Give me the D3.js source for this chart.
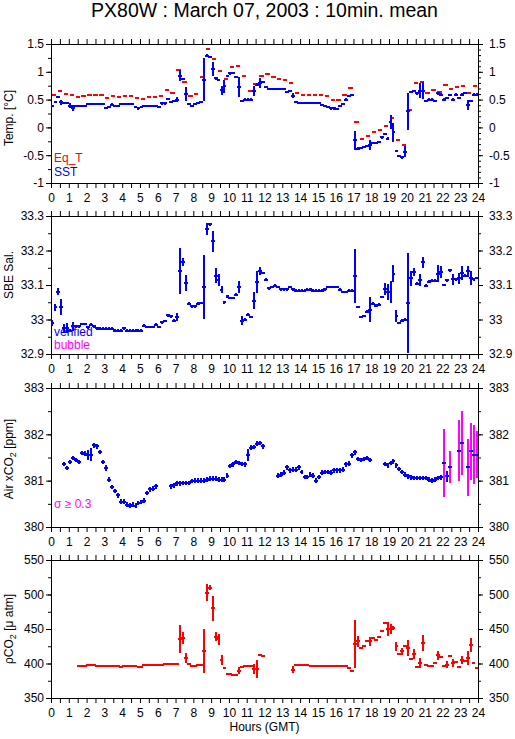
<!DOCTYPE html>
<html>
<head>
<meta charset="utf-8">
<script src="https://cdn.jsdelivr.net/npm/d3@7.9.0/dist/d3.min.js"></script>
<style>
  body { margin: 0; background: #fff; }
  svg { display: block; font-family: "Liberation Sans", Arial, sans-serif; }
</style>
</head>
<body>
<svg id="chart" width="515" height="739"></svg>
<script>
// hours on the x axis
const hours = d3.range(0, 25);
const halfHours = d3.range(0, 24.01, 0.5);

// Eq_T, one value per 20 min
const eqT = [
  0.58, 0.66, 0.60,  0.58, 0.54, 0.56,  0.58, 0.59, 0.58,  0.52, 0.56, 0.54,
  0.57, 0.57, 0.53,  0.51, 0.55, 0.55,  0.57, 0.67, 0.62,  1.03, 0.82, 0.57,
  0.60, 0.90, 1.41,  1.23, 1.02, 0.87,  1.08, 1.11, 0.93,  0.65, 0.78, 0.92,
  0.96, 0.90, 0.87,  0.85, 0.79, 0.62,  0.58, 0.58, 0.58,  0.59, 0.56, 0.50,
  0.50, 0.58, 0.70,  0.10, -0.21, -0.16,  -0.09, -0.05, 0.03,  0.17, -0.22, -0.32,
  0.32, 0.79, 0.82,  0.62, 0.67, 0.63,  0.76, 0.69, 0.72,  0.75, 0.61, 0.75
];

// SST, 10 min means (one row = 1 hour)
const sst = [
  0.39, 0.45, 0.54, 0.45, 0.44, 0.44,
  0.39, 0.35, 0.39, 0.39, 0.39, 0.39,
  0.42, 0.42, 0.42, 0.42, 0.42, 0.42,
  0.35, 0.37, 0.41, 0.38, 0.38, 0.42,
  0.42, 0.42, 0.42, 0.42, 0.37, 0.34,
  0.37, 0.39, 0.39, 0.39, 0.39, 0.39,
  0.37, 0.43, 0.43, 0.51, 0.45, 0.48,
  0.50, 0.93, 0.87, 0.60, 0.42, 0.39,
  0.42, 0.44, 0.45, 0.86, 1.29, 1.27,
  1.05, 0.88, 0.85, 0.67, 0.74, 0.93,
  0.97, 0.98, 0.91, 0.73, 0.47, 0.50,
  0.50, 0.50, 0.65, 0.77, 0.80, 0.81,
  0.73, 0.69, 0.69, 0.69, 0.69, 0.69,
  0.69, 0.64, 0.65, 0.57, 0.45, 0.44,
  0.44, 0.44, 0.44, 0.44, 0.44, 0.44,
  0.44, 0.40, 0.39, 0.36, 0.34, 0.34,
  0.33, 0.39, 0.42, 0.50, 0.56, 0.58,
  -0.23, -0.38, -0.37, -0.35, -0.33, -0.31,
  -0.28, -0.28, -0.26, -0.18, -0.12, -0.20,
  0.10, -0.09, -0.42, -0.52, -0.54, -0.44,
  0.29, 0.63, 0.65, 0.61, 0.66, 0.66,
  0.47, 0.50, 0.50, 0.47, 0.61, 0.59,
  0.50, 0.53, 0.58, 0.50, 0.59, 0.53,
  0.59, 0.62, 0.41, 0.48, 0.59, 0.59
];
// [index, std] where the spread is larger than usual
const sstErr = [
  [3, 0.05], [6, 0.05], [7, 0.05], [42, 0.04], [43, 0.1], [45, 0.13], [51, 0.39],
  [52, 0.03], [54, 0.12], [57, 0.08], [58, 0.12], [63, 0.18], [68, 0.09], [70, 0.09],
  [81, 0.05], [102, 0.17], [107, 0.09], [114, 0.12], [115, 0.17], [119, 0.1],
  [120, 0.33], [124, 0.13], [125, 0.15], [140, 0.09]
];

// SBE salinity, 10 min means
const sal = [
  32.99, 33.036, 33.08, 33.036, 32.975, 32.975,
  32.968, 32.98, 32.98, 32.98, 32.987, 32.987,
  32.977, 32.985, 32.98, 32.975, 32.973, 32.973,
  32.973, 32.973, 32.973, 32.968, 32.968, 32.968,
  32.975, 32.968, 32.968, 32.968, 32.968, 32.968,
  32.968, 32.982, 32.978, 32.978, 32.978, 32.985,
  32.978, 32.992, 32.996, 33.012, 33.009, 32.997,
  33.007, 33.14, 33.166, 33.106, 33.046, 33.038,
  33.038, 33.046, 33.048, 33.094, 33.263, 33.276,
  33.227, 33.127, 33.115, 33.086, 33.05, 33.067,
  33.062, 33.062, 33.072, 33.094, 32.997, 32.999,
  33.014, 33.007, 33.055, 33.11, 33.14, 33.135,
  33.115, 33.09, 33.094, 33.098, 33.094, 33.088,
  33.088, 33.088, 33.094, 33.088, 33.084, 33.084,
  33.084, 33.084, 33.086, 33.088, 33.084, 33.084,
  33.084, 33.084, 33.088, 33.094, 33.094, 33.094,
  33.094, 33.086, 33.08, 33.08, 33.083, 33.083,
  33.127, 33.036, 33.007, 33.01, 33.023, 33.028,
  33.046, 33.04, 33.043, 33.065, 33.088, 33.08,
  33.08, 33.133, 33.01, 32.99, 32.997, 33.0,
  33.048, 33.12, 33.137, 33.104, 33.114, 33.166,
  33.098, 33.11, 33.112, 33.112, 33.133, 33.137,
  33.10, 33.114, 33.143, 33.116, 33.117, 33.12,
  33.135, 33.127, 33.14, 33.12, 33.117, 33.12
];
const salErr = [
  [0, 0.01], [1, 0.01], [2, 0.01], [3, 0.022], [4, 0.012], [5, 0.015], [7, 0.013],
  [42, 0.012], [43, 0.066], [44, 0.012], [45, 0.024], [51, 0.093], [52, 0.018],
  [54, 0.03], [55, 0.022], [56, 0.017], [57, 0.01], [63, 0.017], [64, 0.013],
  [68, 0.024], [69, 0.032], [70, 0.012], [102, 0.078], [107, 0.036], [112, 0.017],
  [113, 0.023], [114, 0.033], [115, 0.024], [116, 0.017], [120, 0.146], [121, 0.022],
  [122, 0.012], [124, 0.018], [125, 0.016], [130, 0.024], [131, 0.017], [135, 0.015],
  [137, 0.016], [138, 0.02], [140, 0.016], [141, 0.02]
];

// air xCO2, 10 min means (null = no air sample)
const xco2 = [
  null, null, null, null, 381.36, 381.27,
  381.40, 381.49, 381.45, 381.40, 381.60, 381.58,
  381.56, 381.56, 381.76, 381.74, 381.62, 381.40,
  381.27, 381.02, 380.86, 380.78, 380.68, 380.55,
  380.55, 380.48, 380.46, 380.48, 380.46, 380.52,
  380.54, 380.57, 380.73, 380.81, 380.83, 380.88,
  null, null, null, null, 380.88, 380.90,
  380.94, 380.94, 380.95, 380.95, 380.95, 380.99,
  381.0, 381.0, 381.0, 381.0, 381.02, 381.04,
  381.04, 381.04, 381.02, 381.02, 381.02, 381.11,
  381.32, 381.35, 381.40, 381.38, 381.36, 381.35,
  381.56, 381.71, 381.73, 381.80, 381.81, 381.74,
  null, null, null, null, 381.11, 381.13,
  381.17, 381.29, 381.22, 381.24, 381.24, 381.29,
  381.19, 381.08, 381.08, 381.13, 381.11, 381.0,
  381.08, 381.17, 381.19, 381.19, 381.17, 381.22,
  381.22, 381.22, 381.24, 381.35, 381.37, 381.55,
  381.61, 381.47, 381.45, 381.47, 381.49, 381.45,
  null, null, null, null, 381.36, 381.33,
  381.38, 381.42, 381.33, 381.25, 381.19, 381.13,
  381.09, 381.07, 381.06, 381.06, 381.06, 381.06,
  381.06, 381.02, 381.0, 381.02, 381.06, 381.07,
  381.38, 381.09, 381.29, null, null, 381.65,
  381.81, null, 381.29, 381.63, 381.56, 381.56
];
const xco2Err = [
  [12, 0.11], [13, 0.14], [18, 0.06], [66, 0.13], [132, 0.73], [133, 0.11], [134, 0.35],
  [137, 0.65], [138, 0.69], [140, 0.62], [141, 0.62], [142, 0.64], [143, 0.51]
];

// pCO2, 10 min means
const pco2 = [
  null, null, null, null, null, null,
  null, null, null, 397.0, 397.0, 397.0,
  398.5, 398.5, 398.5, 397.0, 397.0, 397.0,
  397.0, 397.0, 397.0, 397.0, 396.0, 395.5,
  397.0, 397.0, 397.0, 397.0, 397.0, 395.5,
  395.5, 398.0, 398.0, 398.0, 398.0, 398.0,
  398.5, 398.5, 400.0, 400.0, 400.0, 399.5,
  399.5, 435.3, 436.7, 407.8, 399.0, 396.7,
  396.7, 398.0, 398.0, 418.0, 502.8, 510.0,
  480.0, 439.0, 435.0, 405.4, 393.4, 384.7,
  384.7, 382.8, 382.8, 389.5, 394.8, 396.7,
  396.7, 396.7, 392.0, 392.0, 412.7, 410.2,
  null, null, null, null, null, null,
  null, null, null, 391.0, 397.2, 397.2,
  397.2, 397.2, 397.2, 395.8, 395.8, 395.8,
  395.8, 395.8, 396.2, 396.7, 396.7, 396.7,
  396.7, 395.8, 395.8, 395.8, 393.4, 389.5,
  428.0, 432.0, 423.0, 424.7, 433.0, 432.0,
  436.7, 434.3, 437.7, 447.0, 459.4, 449.8,
  449.8, 451.0, 424.7, 413.6, 417.5, 424.7,
  422.3, 406.9, 413.6, 394.8, 400.6, 429.5,
  398.2, 395.8, 395.8, 400.6, 411.7, 408.8,
  395.8, 398.2, 411.2, 400.6, 401.6, 394.8,
  405.4, 403.0, 407.8, 427.0, 400.6, 393.4
];
const pco2Err = [
  [43, 20], [44, 9], [45, 7.5], [51, 32], [52, 12], [53, 4], [54, 18], [55, 7], [56, 8],
  [57, 7], [63, 5], [68, 7], [69, 13], [81, 5], [102, 35], [103, 8], [107, 6], [113, 10],
  [114, 7], [115, 3], [116, 7], [118, 5], [120, 12], [122, 7], [124, 7], [125, 12],
  [130, 6], [133, 5], [135, 6], [138, 6], [140, 10], [141, 10]
];

const RED = '#ff0000', BLUE = '#0000ff', MAGENTA = '#ff00ff';

const svg = d3.select('#chart');
const x = d3.scaleLinear().domain([0, 24]).range([51, 478]);

const panels = [
  {
    top: 44, bottom: 183, domain: [-1, 1.5], major: 0.5, minorL: 0.25, minorR: 0.1,
    label: ['Temp. [°C]'], labelY: 118,
    series: [
      { values: eqT, step: 1 / 3, frac: 0.72, defErr: 0, errs: [], color: RED, err: () => RED },
      { values: sst, step: 1 / 6, frac: 1.3, defErr: 0.02, errs: sstErr, color: BLUE, err: () => BLUE }
    ],
    legend: [['Eq_T', RED, 162], ['SST', BLUE, 176]]
  },
  {
    top: 216, bottom: 354, domain: [32.9, 33.3], major: 0.1, minorL: 0.05, minorR: 0.05,
    label: ['SBE Sal.'], labelY: 275,
    series: [
      { values: sal, step: 1 / 6, frac: 1.3, defErr: 0.004, errs: salErr, color: BLUE, err: () => BLUE }
    ],
    legend: [['verified', BLUE, 336], ['bubble', MAGENTA, 349]]
  },
  {
    top: 388, bottom: 527, domain: [380, 383], major: 1, minorL: 0.5, minorR: 0.5,
    label: ['Air xCO', '2', ' [ppm]'], labelY: 459,
    series: [
      { values: xco2, step: 1 / 6, frac: 1.3, defErr: 0.05, errs: xco2Err, color: BLUE,
        err: (e) => (e >= 0.3 ? MAGENTA : BLUE) }
    ],
    legend: [['σ ≥ 0.3', MAGENTA, 508]]
  },
  {
    top: 560, bottom: 698, domain: [350, 550], major: 50, minorL: 25, minorR: 25,
    label: ['ρCO', '2', ' [μ atm]'], labelY: 629,
    series: [
      { values: pco2, step: 1 / 6, frac: 1.3, defErr: 1.2, errs: pco2Err, color: RED, err: () => RED }
    ],
    legend: []
  }
];

function fmt(d) {
  return String(+d.toFixed(2));
}

function styleAxis(sel) {
  sel.attr('font-family', null).attr('font-size', 12);
  sel.selectAll('.domain').remove();
  sel.selectAll('text').attr('fill', '#000');
  sel.selectAll('line').attr('stroke', '#000');
}

function ticksBetween(domain, step) {
  const out = [];
  const n = Math.round((domain[1] - domain[0]) / step);
  for (let k = 0; k <= n; k++) out.push(+(domain[0] + k * step).toFixed(4));
  return out;
}

panels.forEach((p, pi) => {
  const y = d3.scaleLinear().domain(p.domain).range([p.bottom, p.top]);
  const g = svg.append('g');

  const clipId = `clip${pi}`;
  svg.append('clipPath').attr('id', clipId)
    .append('rect')
    .attr('x', x(0)).attr('y', p.top)
    .attr('width', x(24) - x(0)).attr('height', p.bottom - p.top);

  // hour ticks, top and bottom
  g.append('g').attr('transform', `translate(0,${p.top})`)
    .call(d3.axisTop(x).tickValues(halfHours).tickSize(5).tickFormat(''))
    .call(styleAxis);
  g.append('g').attr('transform', `translate(0,${p.bottom})`)
    .call(d3.axisBottom(x).tickValues(halfHours).tickSize(5).tickFormat(''))
    .call(styleAxis);
  g.append('g').attr('transform', `translate(0,${p.bottom})`)
    .call(d3.axisBottom(x).tickValues(hours).tickSize(0).tickPadding(10).tickFormat(d3.format('d')))
    .call(styleAxis)
    .selectAll('line').remove();

  // y axes
  const majors = ticksBetween(p.domain, p.major);
  g.append('g').attr('transform', `translate(${x(0)},0)`)
    .call(d3.axisLeft(y).tickValues(ticksBetween(p.domain, p.minorL)).tickSize(3).tickFormat(''))
    .call(styleAxis);
  g.append('g').attr('transform', `translate(${x(0)},0)`)
    .call(d3.axisLeft(y).tickValues(majors).tickSize(5).tickPadding(2).tickFormat(fmt))
    .call(styleAxis);
  g.append('g').attr('transform', `translate(${x(24)},0)`)
    .call(d3.axisRight(y).tickValues(ticksBetween(p.domain, p.minorR)).tickSize(3).tickFormat(''))
    .call(styleAxis);
  g.append('g').attr('transform', `translate(${x(24)},0)`)
    .call(d3.axisRight(y).tickValues(majors).tickSize(5).tickPadding(6).tickFormat(fmt))
    .call(styleAxis);

  // frame
  g.append('rect')
    .attr('x', x(0) + 0.5).attr('y', p.top + 0.5)
    .attr('width', x(24) - x(0)).attr('height', p.bottom - p.top)
    .attr('fill', 'none').attr('stroke', '#000').attr('stroke-width', 1);

  // y title
  const t = g.append('text')
    .attr('transform', `translate(13,${p.labelY}) rotate(-90)`)
    .attr('text-anchor', 'middle').attr('font-size', 12).attr('fill', '#000');
  t.append('tspan').text(p.label[0]);
  if (p.label.length > 1) {
    t.append('tspan').attr('font-size', 9).attr('dy', 3).text(p.label[1]);
    t.append('tspan').attr('dy', -3).text(p.label[2]);
  }

  // data: horizontal bar = averaging interval, vertical bar = std
  const data = g.append('g').attr('clip-path', `url(#${clipId})`);
  p.series.forEach((s) => {
    const errMap = new Map(s.errs);
    const pts = s.values
      .map((v, i) => ({ i, v, e: errMap.has(i) ? errMap.get(i) : s.defErr }))
      .filter((d) => d.v !== null);
    const pad = (s.step * (1 - s.frac)) / 2;

    data.append('g').selectAll('line')
      .data(pts.filter((d) => d.e > 0))
      .join('line')
      .attr('x1', (d) => x((d.i + 0.5) * s.step))
      .attr('x2', (d) => x((d.i + 0.5) * s.step))
      .attr('y1', (d) => y(d.v - d.e))
      .attr('y2', (d) => y(d.v + d.e))
      .attr('stroke', (d) => s.err(d.e))
      .attr('stroke-width', 2)
      .attr('shape-rendering', 'crispEdges');

    data.append('g').selectAll('line')
      .data(pts)
      .join('line')
      .attr('x1', (d) => x(d.i * s.step + pad))
      .attr('x2', (d) => x((d.i + 1) * s.step - pad))
      .attr('y1', (d) => y(d.v))
      .attr('y2', (d) => y(d.v))
      .attr('stroke', s.color)
      .attr('stroke-width', 2)
      .attr('shape-rendering', 'crispEdges');
  });

  // legend
  p.legend.forEach(([txt, col, yy]) => {
    g.append('text').attr('x', 54).attr('y', yy)
      .attr('font-size', 12).attr('fill', col).text(txt);
  });
});

svg.append('text')
  .attr('x', x(12)).attr('y', 17)
  .attr('text-anchor', 'middle').attr('font-size', 19.5).attr('fill', '#000')
  .text('PX80W : March 07, 2003 : 10min. mean');

svg.append('text')
  .attr('x', x(12)).attr('y', 731)
  .attr('text-anchor', 'middle').attr('font-size', 12).attr('fill', '#000')
  .text('Hours (GMT)');
</script>
</body>
</html>
